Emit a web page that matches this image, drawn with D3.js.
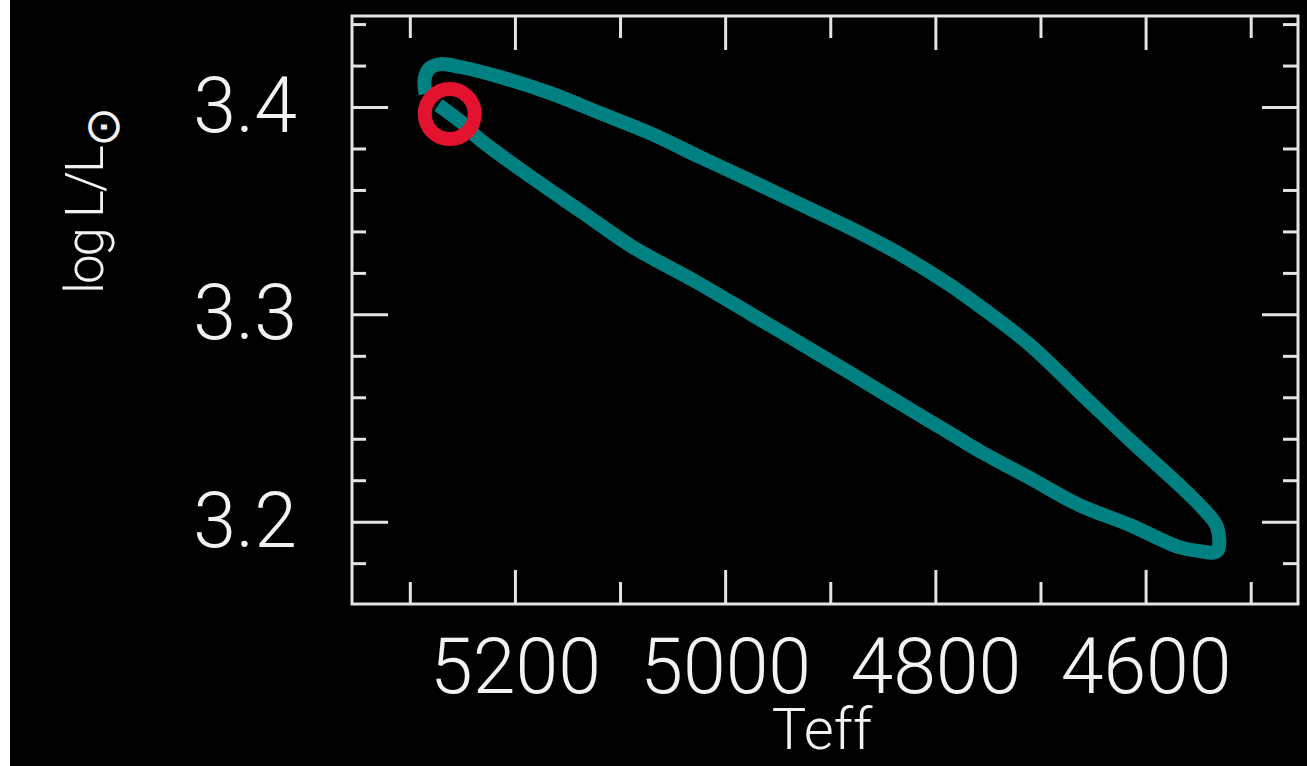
<!DOCTYPE html>
<html>
<head>
<meta charset="utf-8">
<script src="https://cdn.jsdelivr.net/npm/d3@7"></script>
<style>
  html, body { margin: 0; padding: 0; background: #000; }
  svg { display: block; }
  .axis path, .axis line { stroke: #e4e4e4; stroke-width: 3; }
  .axis text { fill: #f2f2f2; font-family: Roboto, "DejaVu Sans", sans-serif; font-weight: 300; font-size: 77px; }
  .label { fill: #f2f2f2; font-family: Roboto, "DejaVu Sans", sans-serif; font-weight: 300; }
</style>
</head>
<body>
<svg id="canvas"></svg>
<script>
// track: Teff and log L/Lsun (start at the marked point)
const teff = [5273, 5250, 5235, 5183, 5135, 5088, 5029, 4977, 4929, 4881, 4834, 4786, 4758, 4710,
    4663, 4615, 4568, 4549, 4532, 4532, 4544, 4568, 4615, 4663, 4710, 4758, 4786, 4834, 4881,
    4929, 4977, 5024, 5072, 5119, 5167, 5214, 5252, 5271, 5282, 5286, 5285]
const logL = [3.401, 3.3923, 3.385, 3.3657, 3.3489, 3.3325, 3.3161, 3.3006, 3.2862, 3.2717, 3.2572,
    3.2427, 3.2341, 3.221, 3.208, 3.1984, 3.1877, 3.1858, 3.1858, 3.1974, 3.2056, 3.2177, 3.2394,
    3.2625, 3.2852, 3.304, 3.3141, 3.3291, 3.3416, 3.3532, 3.3648, 3.3759, 3.3875, 3.3971, 3.4068,
    3.4145, 3.4193, 3.4207, 3.4183, 3.413, 3.4063]

// marked model
const markTeff = [5262]
const markLogL = [3.3966]

const xMajor = [5200, 5000, 4800, 4600]
const xMinor = [5300, 5100, 4900, 4700, 4500]
const yMajor = [3.4, 3.3, 3.2]
const yMinor = [3.44, 3.42, 3.38, 3.36, 3.34, 3.32, 3.28, 3.26, 3.24, 3.22, 3.18]

const W = 1307, H = 766
const fL = 352, fR = 1298, fT = 16, fB = 604

const x = d3.scaleLinear().domain([5355, 4455]).range([fL, fR])
const y = d3.scaleLinear().domain([3.1603, 3.4439]).range([fB, fT])

const svg = d3.select('#canvas')
    .attr('width', W)
    .attr('height', H)

svg.append('rect')
    .attr('x', 0).attr('y', 0)
    .attr('width', 10).attr('height', H)
    .attr('fill', '#fff')

// ticks pointing inward on all four sides
function ticks(axis, vals, size, g) {
    g.append('g').call(axis.tickValues(vals).tickSize(size).tickSizeOuter(0).tickFormat(''))
}

const gb = svg.append('g').classed('axis', true).attr('transform', `translate(0,${fB})`)
gb.call(d3.axisBottom(x).tickValues(xMajor).tickSize(-34).tickSizeOuter(0).tickPadding(34).tickFormat(d3.format('d')))
ticks(d3.axisBottom(x), xMinor, -22, gb)

const gt = svg.append('g').classed('axis', true).attr('transform', `translate(0,${fT})`)
ticks(d3.axisTop(x), xMajor, -34, gt)
ticks(d3.axisTop(x), xMinor, -22, gt)

const gl = svg.append('g').classed('axis', true).attr('transform', `translate(${fL},0)`)
gl.call(d3.axisLeft(y).tickValues(yMajor).tickSize(-36).tickSizeOuter(0).tickPadding(55).tickFormat(d3.format('.1f')))
ticks(d3.axisLeft(y), yMinor, -14, gl)

const gr = svg.append('g').classed('axis', true).attr('transform', `translate(${fR},0)`)
ticks(d3.axisRight(y), yMajor, -36, gr)
ticks(d3.axisRight(y), yMinor, -15, gr)

svg.selectAll('.axis .domain').remove()

// frame
svg.append('rect')
    .attr('x', fL).attr('y', fT)
    .attr('width', fR - fL).attr('height', fB - fT)
    .attr('fill', 'none')
    .attr('stroke', '#e4e4e4')
    .attr('stroke-width', 3)

// track
const line = d3.line()
    .x(i => x(teff[i]))
    .y(i => y(logL[i]))
    .curve(d3.curveCatmullRom.alpha(0.5))

svg.append('path')
    .datum(d3.range(teff.length))
    .attr('d', line)
    .attr('fill', 'none')
    .attr('stroke', '#008080')
    .attr('stroke-width', 14)
    .attr('stroke-linejoin', 'miter')

svg.selectAll('circle.mark')
    .data(markTeff)
    .enter()
    .append('circle').classed('mark', true)
    .attr('cx', d => x(d))
    .attr('cy', (d, i) => y(markLogL[i]))
    .attr('r', 25)
    .attr('fill', 'none')
    .attr('stroke', '#e3122f')
    .attr('stroke-width', 14)

// axis titles
svg.append('text').classed('label', true)
    .attr('x', 822).attr('y', 749)
    .attr('text-anchor', 'middle')
    .attr('font-size', 58)
    .text('Teff')

const yl = svg.append('text').classed('label', true)
    .attr('transform', 'translate(103,294) rotate(-90)')
    .attr('font-size', 53)
    .attr('letter-spacing', -2)
yl.append('tspan').text('log L/L')
yl.append('tspan')
    .attr('font-size', 48)
    .attr('dy', 16)
    .attr('letter-spacing', 0)
    .attr('font-family', '"DejaVu Sans", sans-serif')
    .text('⊙')
</script>
</body>
</html>
